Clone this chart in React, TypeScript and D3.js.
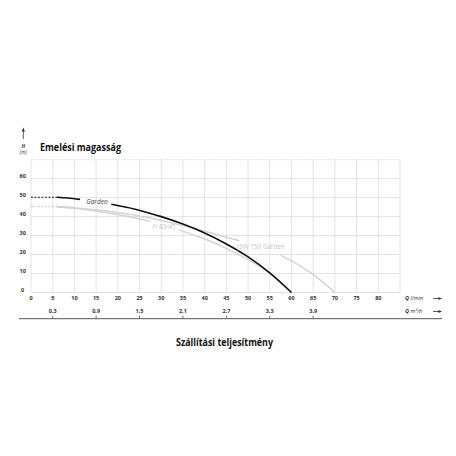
import React from "react";
import * as d3 from "d3";

const xTicks = [0, 5, 10, 15, 20, 25, 30, 35, 40, 45, 50, 55, 60, 65, 70, 75, 80];
const yTicks = [0, 10, 20, 30, 40, 50, 60];
const m3Ticks = ["0,3", "0,9", "1,5", "2,1", "2,7", "3,3", "3,9"];
const m3Values = [0.3, 0.9, 1.5, 2.1, 2.7, 3.3, 3.9];

// Garden (black)
const gardenDashQ = [0, 6];
const gardenDashH = [50.2, 50.2];
const gardenAQ = [6, 8.5, 11.3];
const gardenAH = [50.2, 49.8, 49.1];
const gardenBQ = [18.5, 24, 30, 35, 40, 45, 50, 55, 60];
const gardenBH = [46.5, 43.9, 40, 36.1, 31.4, 25.6, 18.8, 10.4, 0];

// shared grey dashed start
const greyDashQ = [0, 6];
const greyDashH = [45.3, 45.3];

// JSW 150 Garden (grey)
const jswAQ = [6, 10, 16, 23, 30, 35, 40, 46, 48];
const jswAH = [45.3, 44.7, 43.3, 41.1, 38, 35.3, 32.3, 28.5, 27.3];
const jswBQ = [57.5, 61, 65.2, 70];
const jswBH = [19.6, 15.4, 9.2, 0];

// Fl 60/45 (grey)
const flAQ = [6, 10, 16, 23, 27.5];
const flAH = [45.1, 44.4, 42.6, 39.8, 37.5];
const flBQ = [34, 40, 43.6, 46, 50, 54.7, 57.5, 60];
const flBH = [33, 28.2, 24.7, 22.1, 17.3, 10.5, 5.4, 0];

const W = 456;
const H = 456;
const x = d3.scaleLinear().domain([0, 85]).range([31, 400]);
const y = d3.scaleLinear().domain([0, 70]).range([292.5, 159.7]);

const line = d3
  .line<[number, number]>()
  .x((d) => x(d[0]))
  .y((d) => y(d[1]))
  .curve(d3.curveCatmullRom.alpha(0.5));

const pts = (qs: number[], hs: number[]) => qs.map((q, i) => [q, hs[i]] as [number, number]);

const FONT = "'Open Sans', 'DejaVu Sans', sans-serif";
const GREY = "#d4d4d4";

export default function App() {
  const gridX = d3.range(0, 86, 5);
  const gridY = d3.range(0, 71, 10);
  return (
    <svg width={W} height={H} style={{ position: "absolute", left: 0, top: 0, background: "#fff" }}>
      <rect width={W} height={H} fill="#fff" />
      {gridX.map((g) => (
        <line key={"gx" + g} x1={x(g)} x2={x(g)} y1={y(0)} y2={y(70)} stroke="#dcdcdc" strokeWidth={0.8} />
      ))}
      {gridY.map((g) => (
        <line
          key={"gy" + g}
          x1={x(0)}
          x2={x(85)}
          y1={y(g)}
          y2={y(g)}
          stroke="#dcdcdc"
          strokeWidth={0.8}
          strokeDasharray={g === 70 ? "2,1" : undefined}
        />
      ))}
      <path d={line(pts(greyDashQ, greyDashH)) || ""} fill="none" stroke={GREY} strokeWidth={1.6} strokeDasharray="2,1.5" />
      <path d={line(pts(jswAQ, jswAH)) || ""} fill="none" stroke={GREY} strokeWidth={1.5} />
      <path d={line(pts(jswBQ, jswBH)) || ""} fill="none" stroke={GREY} strokeWidth={1.5} />
      <path d={line(pts(flAQ, flAH)) || ""} fill="none" stroke={GREY} strokeWidth={1.5} />
      <path d={line(pts(flBQ, flBH)) || ""} fill="none" stroke={GREY} strokeWidth={1.5} />
      <path d={line(pts(gardenDashQ, gardenDashH)) || ""} fill="none" stroke="#222" strokeWidth={1} strokeDasharray="2,1.5" />
      <path d={line(pts(gardenAQ, gardenAH)) || ""} fill="none" stroke="#111" strokeWidth={1.6} />
      <path d={line(pts(gardenBQ, gardenBH)) || ""} fill="none" stroke="#111" strokeWidth={1.6} />
      <text x={x(15.2)} y={y(47.3)} fontFamily={FONT} fontSize={6.5} fontStyle="italic" fill="#444" textAnchor="middle" dominantBaseline="middle">
        Garden
      </text>
      <text x={x(30.6)} y={y(34.2)} fontFamily={FONT} fontSize={6.5} fontStyle="italic" fill="#c4c4c4" textAnchor="middle" dominantBaseline="middle">
        Fl 60/45
      </text>
      <text x={x(53)} y={y(24)} fontFamily={FONT} fontSize={6.3} fill="#c4c4c4" textAnchor="middle" dominantBaseline="middle">
        JSW 150 Garden
      </text>
      {yTicks.map((t) => (
        <text key={"yt" + t} x={22.7} y={y(t) - 2} fontFamily={FONT} fontSize={5.5} fontWeight="bold" fill="#333" textAnchor="middle" dominantBaseline="middle">
          {t}
        </text>
      ))}
      {xTicks.map((t) => (
        <text key={"xt" + t} x={x(t)} y={298.5} fontFamily={FONT} fontSize={5.5} fontWeight="bold" fill="#333" textAnchor="middle" dominantBaseline="middle">
          {t}
        </text>
      ))}
      {m3Values.map((v, i) => (
        <g key={"m3" + i}>
          <text x={x((v * 1000) / 60)} y={311.5} fontFamily={FONT} fontSize={5.5} fontWeight="bold" fill="#333" textAnchor="middle" dominantBaseline="middle">
            {m3Ticks[i]}
          </text>
          <line x1={x((v * 1000) / 60)} x2={x((v * 1000) / 60)} y1={315.5} y2={318.7} stroke="#555" strokeWidth={0.8} />
        </g>
      ))}
      <line x1={19} x2={442} y1={318.7} y2={318.7} stroke="#555" strokeWidth={1} />
      <text x={405} y={298.5} fontFamily={FONT} fontSize={5.5} fill="#333" dominantBaseline="middle">
        <tspan fontWeight="bold" fontStyle="italic">Q</tspan>
        <tspan fontStyle="italic"> l/min</tspan>
      </text>
      <text x={405} y={311.5} fontFamily={FONT} fontSize={5.5} fill="#333" dominantBaseline="middle">
        <tspan fontWeight="bold" fontStyle="italic">Q</tspan>
        <tspan fontStyle="italic"> m³/h</tspan>
      </text>
      {[298.5, 311.5].map((yy) => (
        <g key={"arr" + yy}>
          <line x1={433} x2={440} y1={yy} y2={yy} stroke="#333" strokeWidth={0.8} />
          <path d={`M442,${yy} L438.5,${yy - 1.6} L438.5,${yy + 1.6} Z`} fill="#333" />
        </g>
      ))}
      <line x1={23.3} x2={23.3} y1={130} y2={139} stroke="#333" strokeWidth={0.8} />
      <path d="M23.3,127.5 L21.7,131.5 L24.9,131.5 Z" fill="#333" />
      <text x={23.3} y={146.5} fontFamily={FONT} fontSize={5} fontStyle="italic" fontWeight="bold" fill="#333" textAnchor="middle" dominantBaseline="middle">
        H
      </text>
      <text x={23.3} y={153} fontFamily={FONT} fontSize={4.8} fontStyle="italic" fill="#333" textAnchor="middle" dominantBaseline="middle">
        (m)
      </text>
      <text x={40} y={148} fontFamily={FONT} fontSize={10} fontWeight="bold" fill="#111" dominantBaseline="middle" textLength={81} lengthAdjust="spacingAndGlyphs">
        Emelési magasság
      </text>
      <text x={176} y={343} fontFamily={FONT} fontSize={10} fontWeight="bold" fill="#111" dominantBaseline="middle" textLength={97} lengthAdjust="spacingAndGlyphs">
        Szállítási teljesítmény
      </text>
    </svg>
  );
}
